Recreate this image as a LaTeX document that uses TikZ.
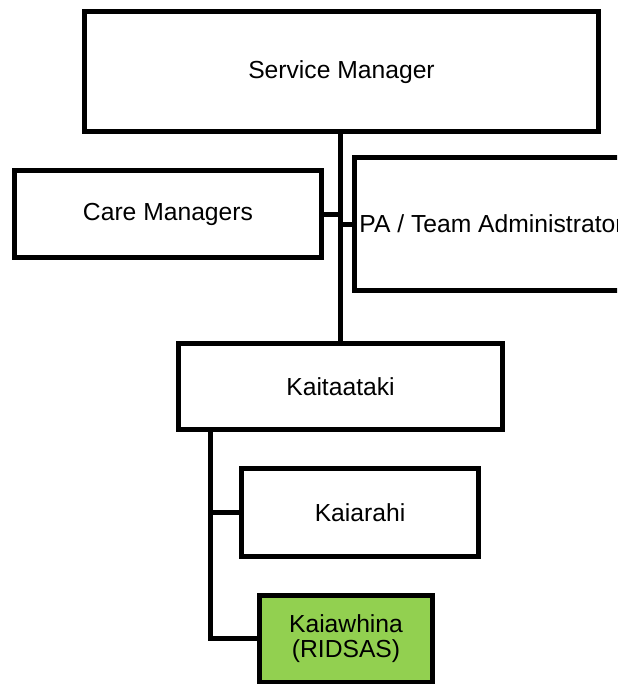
\documentclass[tikz,border=0pt]{standalone}
\usepackage{fontspec}
\setmainfont{Liberation Sans}
\definecolor{kgreen}{HTML}{92D050}
\tikzset{
  box/.style={draw=black, line width=3.75pt, fill=white, inner sep=0pt, align=center,
              font=\fontsize{18.5}{19}\selectfont},
  link/.style={draw=black, line width=3.75pt}
}
\begin{document}
\begin{tikzpicture}[x=0.75pt, y=-0.75pt]
\useasboundingbox (0,0) rectangle (617,684);
\clip (0,0) rectangle (617,684);
\node[box, minimum width=514*0.75pt, minimum height=120*0.75pt] (sm) at (341.5,72) {Service Manager};
\node[box, minimum width=307*0.75pt, minimum height=87*0.75pt] (cm) at (168,214) {Care Managers};
\node[box, minimum width=274*0.75pt, minimum height=133*0.75pt] (pa) at (491.5,224) {PA / Team Administrator};
\node[box, minimum width=324*0.75pt, minimum height=86*0.75pt] (kt) at (340.5,386.5) {Kaitaataki};
\node[box, minimum width=237*0.75pt, minimum height=88*0.75pt] (kr) at (360,512.5) {Kaiarahi};
\node[box, fill=kgreen, minimum width=173*0.75pt, minimum height=87*0.75pt] (kw) at (346,638.5) {Kaiawhina\\(RIDSAS)};
\coordinate (lt) at (210,429.5);
\draw[link] (kt.north) -- (kt.north |- sm.south);
\draw[link] (cm.east) -- (cm.east -| kt.north);
\draw[link] (pa.west) -- (pa.west -| kt.north);
\draw[link] (lt) |- (kw.west);
\draw[link] (lt |- kr.west) -- (kr.west);
\end{tikzpicture}
\end{document}
